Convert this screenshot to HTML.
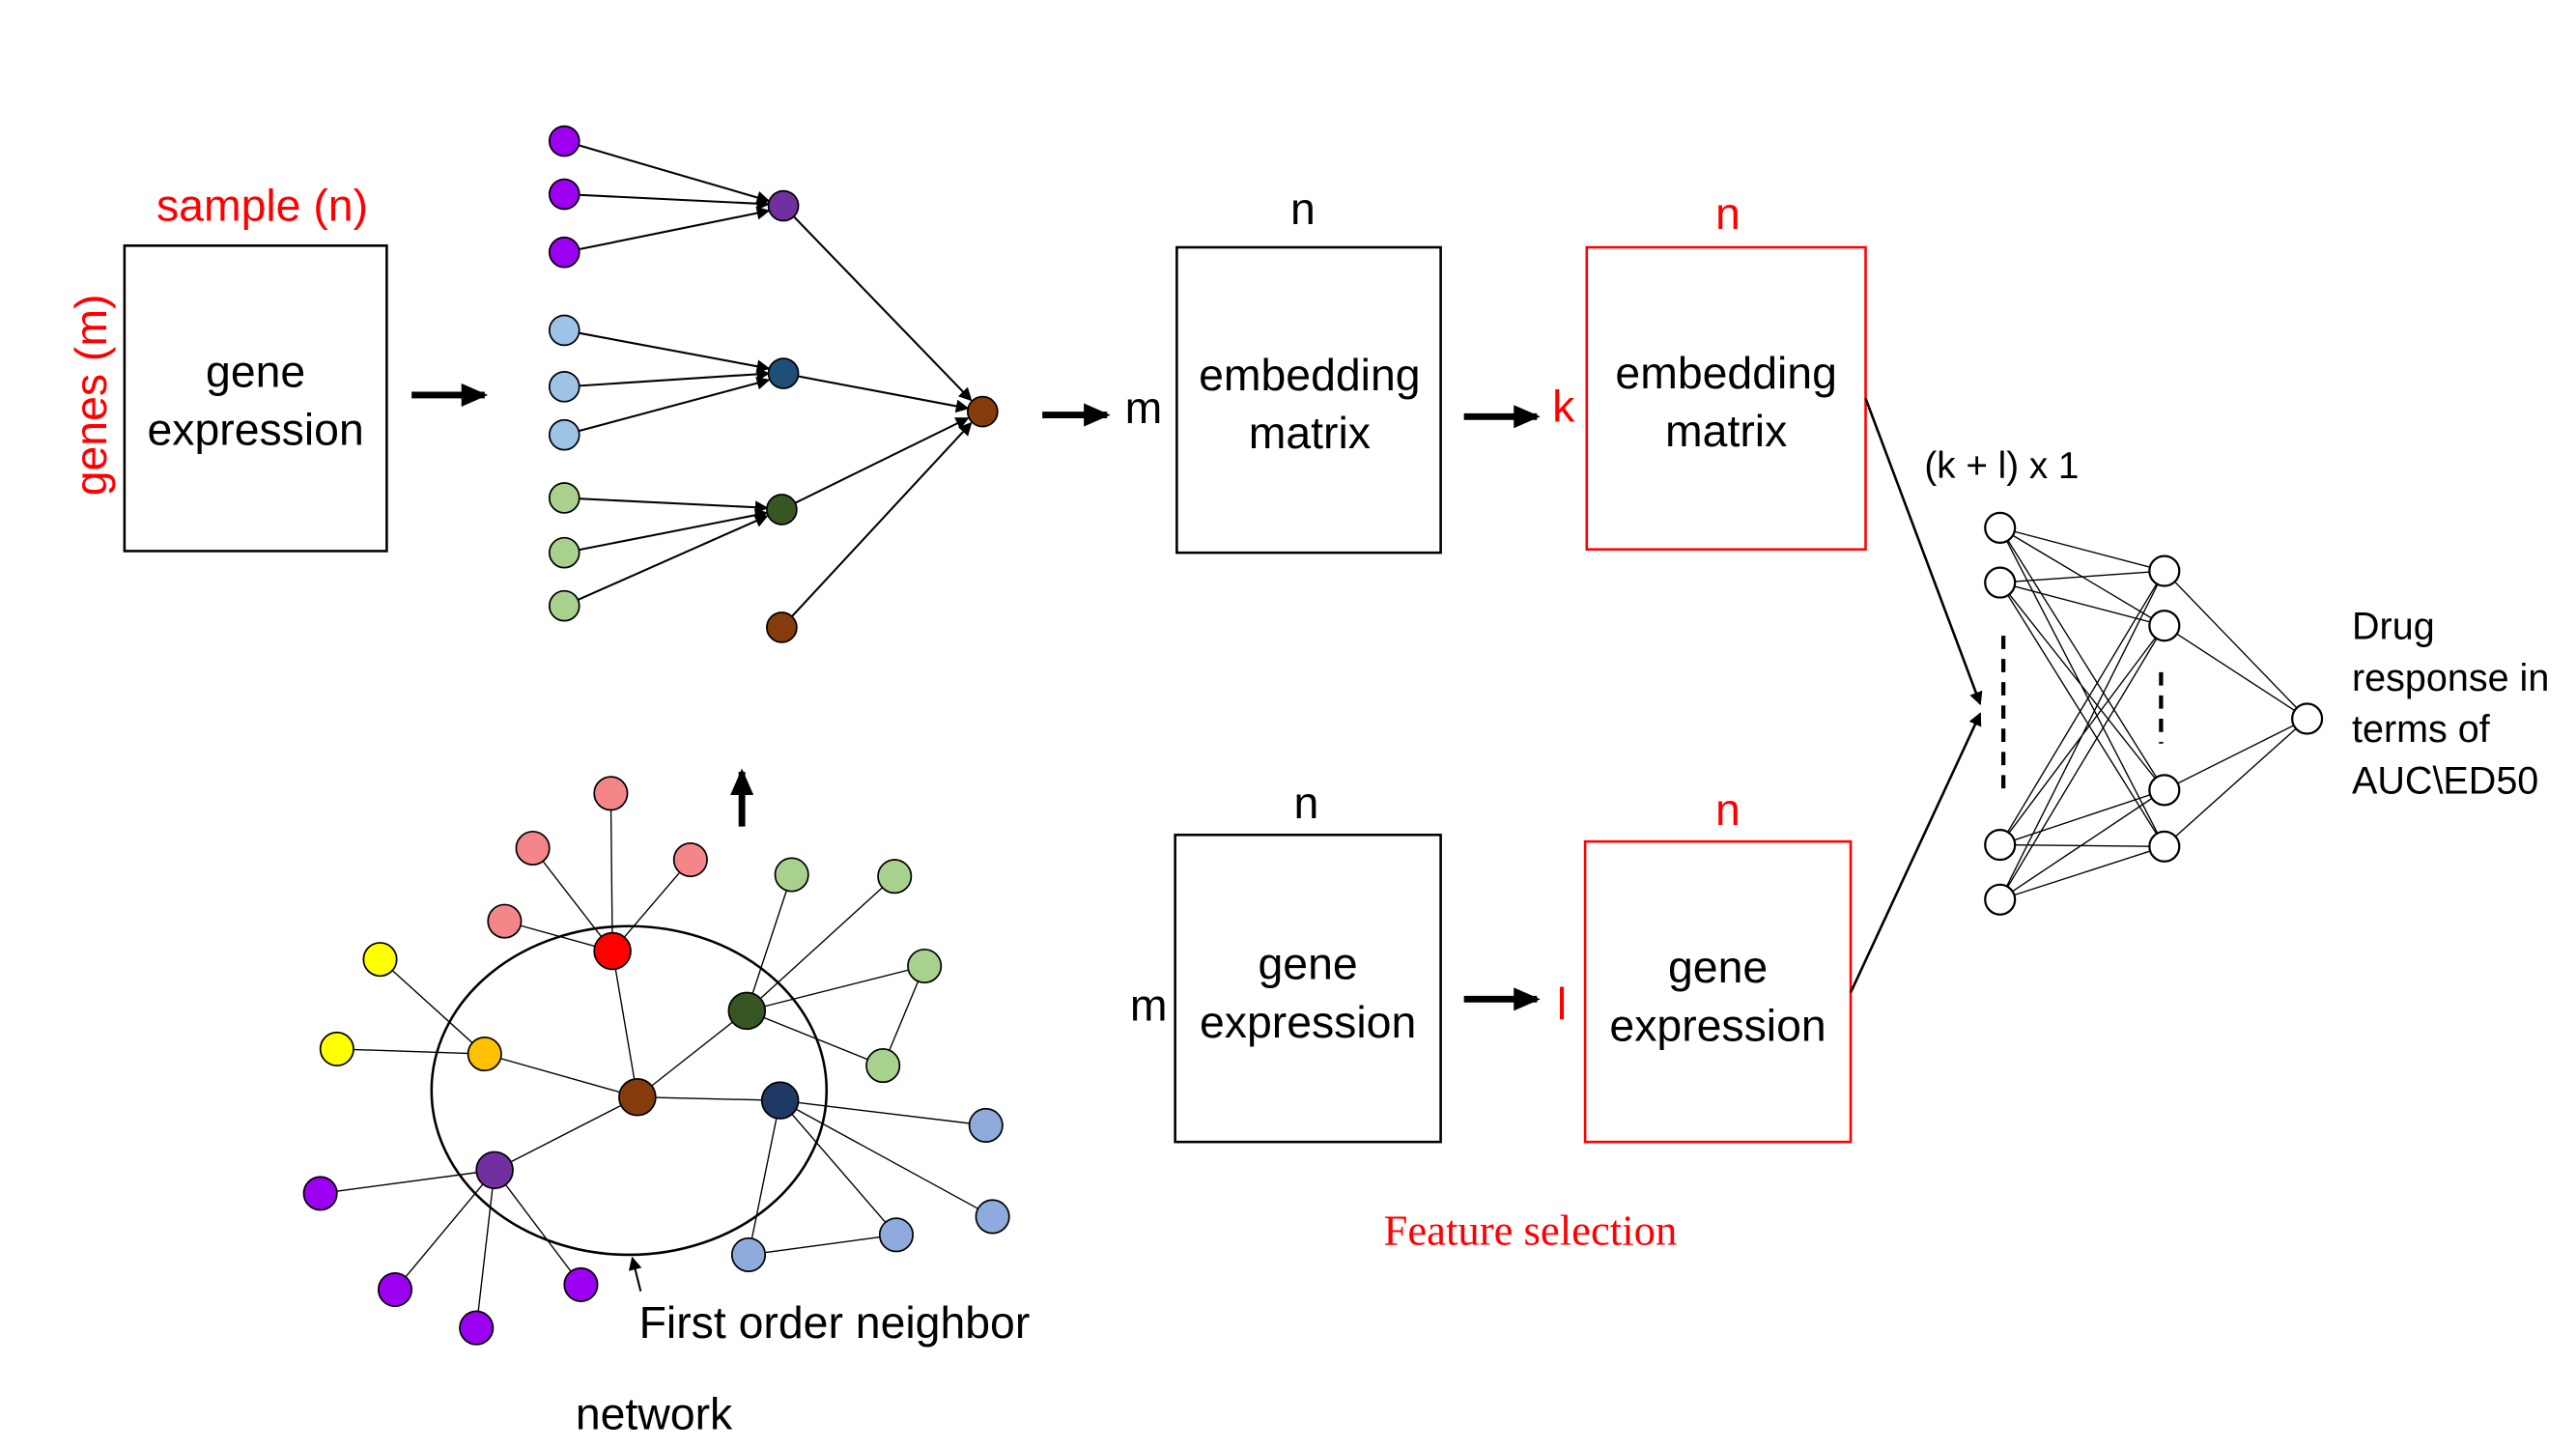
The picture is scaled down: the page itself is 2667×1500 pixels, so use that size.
<!DOCTYPE html>
<html><head><meta charset="utf-8"><style>
html,body{margin:0;padding:0;background:#fff;}
svg{display:block;}
text{font-family:"Liberation Sans",sans-serif;}
</style></head><body>
<svg width="2667" height="1500" viewBox="0 0 1552 873" preserveAspectRatio="none" xmlns="http://www.w3.org/2000/svg">
<defs>
<marker id="a" markerWidth="8" markerHeight="8" refX="7" refY="4" orient="auto" markerUnits="userSpaceOnUse"><path d="M0,0 L8,4 L0,8 z" fill="#000"/></marker>
<marker id="b" markerWidth="16" markerHeight="14" refX="14" refY="7" orient="auto" markerUnits="userSpaceOnUse"><path d="M0,0 L16,7 L0,14 z" fill="#000"/></marker>
</defs>
<g font-size="27" text-anchor="middle">
<text x="158" y="133" fill="#f00">sample (n)</text>
<text transform="translate(64,238) rotate(-90)" fill="#f00">genes (m)</text>
<rect x="75" y="148" width="158" height="184" fill="none" stroke="#000" stroke-width="1.5"/>
<text x="154" y="233">gene</text><text x="154" y="268">expression</text>
<line x1="248" y1="238" x2="292" y2="238" stroke="#000" stroke-width="4" marker-end="url(#b)"/>

<g stroke="#000" stroke-width="1.2" marker-end="url(#a)">
<line x1="340" y1="85" x2="463" y2="121"/><line x1="340" y1="117" x2="463" y2="123"/><line x1="340" y1="152" x2="463" y2="127"/>
<line x1="340" y1="199" x2="463" y2="222"/><line x1="340" y1="233" x2="463" y2="225"/><line x1="340" y1="262" x2="463" y2="229"/>
<line x1="340" y1="300" x2="462" y2="306"/><line x1="340" y1="333" x2="462" y2="309"/><line x1="340" y1="365" x2="462" y2="311"/>
<line x1="472" y1="124" x2="585" y2="241"/><line x1="472" y1="225" x2="583" y2="246"/><line x1="471" y1="307" x2="583" y2="252"/><line x1="471" y1="378" x2="585" y2="255"/>
</g>
<g stroke="#000" stroke-width="1">
<circle cx="340" cy="85" r="9" fill="#9b00f0"/><circle cx="340" cy="117" r="9" fill="#9b00f0"/><circle cx="340" cy="152" r="9" fill="#9b00f0"/>
<circle cx="340" cy="199" r="9" fill="#9dc3e6"/><circle cx="340" cy="233" r="9" fill="#9dc3e6"/><circle cx="340" cy="262" r="9" fill="#9dc3e6"/>
<circle cx="340" cy="300" r="9" fill="#a9d18e"/><circle cx="340" cy="333" r="9" fill="#a9d18e"/><circle cx="340" cy="365" r="9" fill="#a9d18e"/>
<circle cx="472" cy="124" r="9" fill="#7030a0"/><circle cx="472" cy="225" r="9" fill="#1f4e79"/><circle cx="471" cy="307" r="9" fill="#375623"/><circle cx="471" cy="378" r="9" fill="#843c0c"/>
<circle cx="592" cy="248" r="9" fill="#843c0c"/>
</g>

<line x1="628" y1="250" x2="667" y2="250" stroke="#000" stroke-width="4" marker-end="url(#b)"/>
<text x="689" y="255">m</text>
<text x="785" y="135">n</text>
<rect x="709" y="149" width="159" height="184" fill="none" stroke="#000" stroke-width="1.5"/>
<text x="789" y="235">embedding</text><text x="789" y="270">matrix</text>
<line x1="882" y1="251" x2="926" y2="251" stroke="#000" stroke-width="4" marker-end="url(#b)"/>
<text x="942" y="254" fill="#f00">k</text>
<text x="1041" y="138" fill="#f00">n</text>
<rect x="956" y="149" width="168" height="182" fill="none" stroke="#f00" stroke-width="1.5"/>
<text x="1040" y="234">embedding</text><text x="1040" y="269">matrix</text>

<text x="787" y="493">n</text>
<rect x="708" y="503" width="160" height="185" fill="none" stroke="#000" stroke-width="1.5"/>
<text x="692" y="615">m</text>
<text x="788" y="590">gene</text><text x="788" y="625">expression</text>
<line x1="882" y1="602" x2="926" y2="602" stroke="#000" stroke-width="4" marker-end="url(#b)"/>
<text x="941" y="614" fill="#f00">l</text>
<text x="1041" y="497" fill="#f00">n</text>
<rect x="955" y="507" width="160" height="181" fill="none" stroke="#f00" stroke-width="1.5"/>
<text x="1035" y="592">gene</text><text x="1035" y="627">expression</text>
<text x="922" y="750" fill="#f00" font-size="26" style="font-family:'Liberation Serif',serif">Feature selection</text>

<line x1="1124" y1="240" x2="1193" y2="424" stroke="#000" stroke-width="1.5" marker-end="url(#a)"/>
<line x1="1115" y1="598" x2="1193" y2="430" stroke="#000" stroke-width="1.5" marker-end="url(#a)"/>
<text x="1206" y="288" font-size="22.5">(k + l) x 1</text>

<g stroke="#000" stroke-width="0.8">
<path d="M1205 318L1304 344M1205 318L1304 377M1205 318L1304 476M1205 318L1304 510M1205 351L1304 344M1205 351L1304 377M1205 351L1304 476M1205 351L1304 510M1205 509L1304 344M1205 509L1304 377M1205 509L1304 476M1205 509L1304 510M1205 542L1304 344M1205 542L1304 377M1205 542L1304 476M1205 542L1304 510M1304 344L1390 433M1304 377L1390 433M1304 476L1390 433M1304 510L1390 433"/>
</g>
<line x1="1207" y1="383" x2="1207" y2="478" stroke="#000" stroke-width="2.5" stroke-dasharray="8,6"/>
<line x1="1302" y1="405" x2="1302" y2="448" stroke="#000" stroke-width="2.5" stroke-dasharray="8,6"/>
<g fill="#fff" stroke="#000" stroke-width="1.3">
<circle cx="1205" cy="318" r="9"/><circle cx="1205" cy="351" r="9"/><circle cx="1205" cy="509" r="9"/><circle cx="1205" cy="542" r="9"/>
<circle cx="1304" cy="344" r="9"/><circle cx="1304" cy="377" r="9"/><circle cx="1304" cy="476" r="9"/><circle cx="1304" cy="510" r="9"/>
<circle cx="1390" cy="433" r="9"/>
</g>
<g text-anchor="start" font-size="23">
<text x="1417" y="385">Drug</text><text x="1417" y="416">response in</text><text x="1417" y="447">terms of</text><text x="1417" y="478">AUC\ED50</text>
</g>

<line x1="447" y1="498" x2="447" y2="465" stroke="#000" stroke-width="4" marker-end="url(#b)"/>
<ellipse cx="379" cy="657" rx="119" ry="99" fill="none" stroke="#000" stroke-width="1.5"/>
<g stroke="#000" stroke-width="0.8">
<path d="M369 573L368 478M369 573L321 511M369 573L416 518M369 573L304 555M369 573L384 661M292 635L229 578M292 635L203 632M292 635L384 661M384 661L450 609M384 661L470 663M384 661L298 705M450 609L477 527M450 609L539 528M450 609L557 582M450 609L532 642M557 582L532 642M470 663L594 678M470 663L598 733M470 663L540 744M470 663L451 756M451 756L540 744M298 705L193 719M298 705L238 777M298 705L287 800M298 705L350 774"/>
</g>
<g stroke="#000" stroke-width="1">
<circle cx="368" cy="478" r="10" fill="#f4868a"/><circle cx="321" cy="511" r="10" fill="#f4868a"/><circle cx="416" cy="518" r="10" fill="#f4868a"/><circle cx="304" cy="555" r="10" fill="#f4868a"/>
<circle cx="369" cy="573" r="11" fill="#ff0000"/>
<circle cx="229" cy="578" r="10" fill="#ffff00"/><circle cx="203" cy="632" r="10" fill="#ffff00"/>
<circle cx="292" cy="635" r="10" fill="#ffc000"/>
<circle cx="384" cy="661" r="11" fill="#843c0c"/>
<circle cx="450" cy="609" r="11" fill="#375623"/>
<circle cx="477" cy="527" r="10" fill="#a9d18e"/><circle cx="539" cy="528" r="10" fill="#a9d18e"/><circle cx="557" cy="582" r="10" fill="#a9d18e"/><circle cx="532" cy="642" r="10" fill="#a9d18e"/>
<circle cx="470" cy="663" r="11" fill="#1f3864"/>
<circle cx="594" cy="678" r="10" fill="#8faadc"/><circle cx="598" cy="733" r="10" fill="#8faadc"/><circle cx="540" cy="744" r="10" fill="#8faadc"/><circle cx="451" cy="756" r="10" fill="#8faadc"/>
<circle cx="298" cy="705" r="11" fill="#7030a0"/>
<circle cx="193" cy="719" r="10" fill="#9b00f0"/><circle cx="238" cy="777" r="10" fill="#9b00f0"/><circle cx="287" cy="800" r="10" fill="#9b00f0"/><circle cx="350" cy="774" r="10" fill="#9b00f0"/>
</g>
<line x1="386" y1="778" x2="381" y2="758" stroke="#000" stroke-width="1.2" marker-end="url(#a)"/>
<text x="385" y="806" text-anchor="start">First order neighbor</text>
<text x="394" y="861">network</text>
</g>
</svg>
</body></html>
